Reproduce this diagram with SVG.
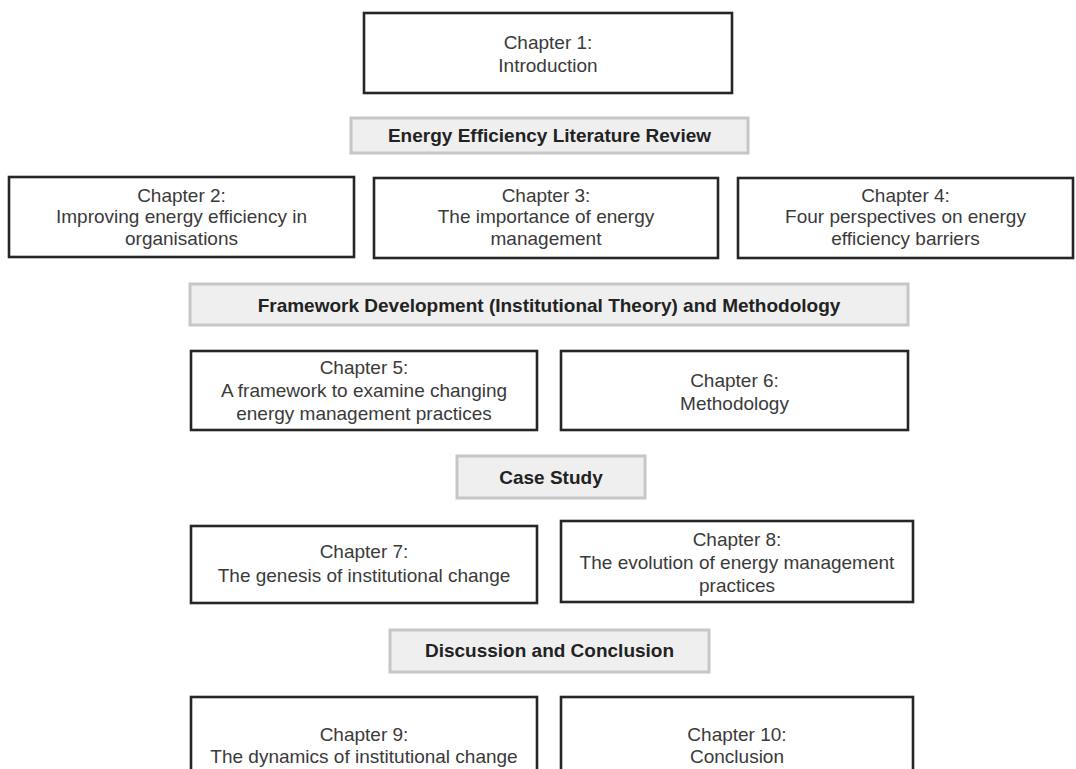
<svg xmlns="http://www.w3.org/2000/svg" width="1076" height="769" viewBox="0 0 1076 769">
<style>
.box{fill:#ffffff;stroke:#262626;stroke-width:2.6}
.hdr{fill:#efefef;stroke:#c6c6c6;stroke-width:3}
.t{font-family:"Liberation Sans",Arial,sans-serif;font-size:19px;fill:#3a3a3a;text-anchor:middle}
.h{font-family:"Liberation Sans",Arial,sans-serif;font-size:19px;font-weight:bold;fill:#222222;text-anchor:middle}
</style>
<rect width="1076" height="769" fill="#ffffff"/>
<g id="connectors"></g>
<g id="ch1"><rect class="box" x="364" y="13" width="368" height="80"/><text class="t" x="548" y="49">Chapter 1:</text><text class="t" x="548" y="72">Introduction</text></g>
<g id="hdr1"><rect class="hdr" x="351" y="118" width="397" height="35"/><text class="h" x="549.5" y="142">Energy Efficiency Literature Review</text></g>
<g id="ch2"><rect class="box" x="9" y="177" width="345" height="80"/><text class="t" x="181.5" y="202">Chapter 2:</text><text class="t" x="181.5" y="223">Improving energy efficiency in</text><text class="t" x="181.5" y="245">organisations</text></g>
<g id="ch3"><rect class="box" x="374" y="178" width="344" height="80"/><text class="t" x="546" y="202">Chapter 3:</text><text class="t" x="546" y="223">The importance of energy</text><text class="t" x="546" y="245">management</text></g>
<g id="ch4"><rect class="box" x="738" y="178" width="335" height="80"/><text class="t" x="905.5" y="202">Chapter 4:</text><text class="t" x="905.5" y="223">Four perspectives on energy</text><text class="t" x="905.5" y="245">efficiency barriers</text></g>
<g id="hdr2"><rect class="hdr" x="190" y="284" width="718" height="41"/><text class="h" x="549" y="312">Framework Development (Institutional Theory) and Methodology</text></g>
<g id="ch5"><rect class="box" x="191" y="351" width="346" height="79"/><text class="t" x="364" y="374">Chapter 5:</text><text class="t" x="364" y="397">A framework to examine changing</text><text class="t" x="364" y="420">energy management practices</text></g>
<g id="ch6"><rect class="box" x="561" y="351" width="347" height="79"/><text class="t" x="734.5" y="387">Chapter 6:</text><text class="t" x="734.5" y="410">Methodology</text></g>
<g id="hdr3"><rect class="hdr" x="457" y="456" width="188" height="42"/><text class="h" x="551" y="484">Case Study</text></g>
<g id="ch7"><rect class="box" x="191" y="526" width="346" height="77"/><text class="t" x="364" y="558">Chapter 7:</text><text class="t" x="364" y="582">The genesis of institutional change</text></g>
<g id="ch8"><rect class="box" x="561" y="521" width="352" height="81"/><text class="t" x="737" y="546">Chapter 8:</text><text class="t" x="737" y="569">The evolution of energy management</text><text class="t" x="737" y="592">practices</text></g>
<g id="hdr4"><rect class="hdr" x="390" y="630" width="319" height="42"/><text class="h" x="549.5" y="657">Discussion and Conclusion</text></g>
<g id="ch9"><rect class="box" x="191" y="697" width="346" height="90"/><text class="t" x="364" y="741">Chapter 9:</text><text class="t" x="364" y="763">The dynamics of institutional change</text></g>
<g id="ch10"><rect class="box" x="561" y="697" width="352" height="90"/><text class="t" x="737" y="741">Chapter 10:</text><text class="t" x="737" y="763">Conclusion</text></g>
</svg>
